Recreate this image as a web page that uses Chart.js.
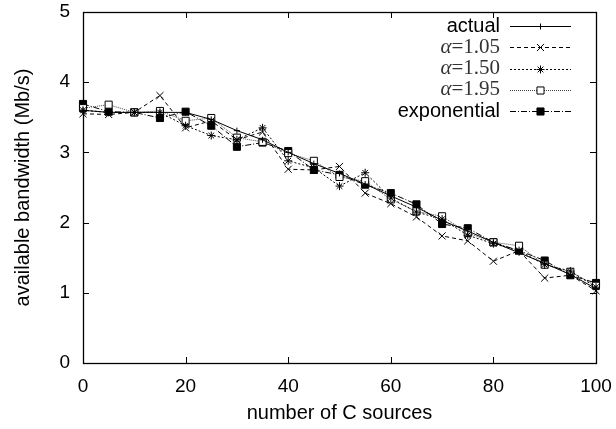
<!DOCTYPE html>
<html>
<head>
<meta charset="utf-8">
<script src="https://cdn.jsdelivr.net/npm/chart.js@4/dist/chart.umd.min.js"></script>
<style>
  html, body { margin: 0; padding: 0; background: #fff; }
  #wrap { width: 616px; height: 429px; }
</style>
</head>
<body>
<div id="wrap"><canvas id="chartContainer" width="616" height="429"></canvas></div>
<script>
// number of C sources
var sources = [0, 5, 10, 15, 20, 25, 30, 35, 40, 45, 50, 55, 60, 65, 70, 75, 80, 85, 90, 95, 100];

// available bandwidth (Mb/s)
var actual      = [3.60, 3.57, 3.57, 3.57, 3.57, 3.47, 3.31, 3.18, 3.00, 2.84, 2.70, 2.55, 2.38, 2.22, 2.03, 1.88, 1.72, 1.57, 1.42, 1.26, 1.06];
var alpha105    = [3.55, 3.54, 3.57, 3.81, 3.35, 3.45, 3.18, 3.29, 2.76, 2.75, 2.80, 2.42, 2.27, 2.08, 1.81, 1.74, 1.45, 1.60, 1.21, 1.25, 1.03];
var alpha150    = [3.60, 3.57, 3.57, 3.57, 3.38, 3.24, 3.18, 3.35, 2.88, 2.78, 2.52, 2.71, 2.35, 2.15, 2.05, 1.82, 1.70, 1.60, 1.40, 1.31, 1.08];
var alpha195    = [3.63, 3.68, 3.57, 3.59, 3.45, 3.49, 3.21, 3.15, 2.99, 2.88, 2.65, 2.59, 2.33, 2.16, 2.09, 1.85, 1.72, 1.67, 1.40, 1.30, 1.10];
var exponential = [3.69, 3.58, 3.57, 3.49, 3.58, 3.38, 3.08, 3.14, 3.02, 2.75, 2.68, 2.54, 2.42, 2.26, 1.98, 1.92, 1.72, 1.60, 1.46, 1.25, 1.14];

var legendLabels = ['actual', 'α=1.05', 'α=1.50', 'α=1.95', 'exponential'];

function toPoints(values) {
    return values.map(function(v, i) { return { x: sources[i], y: v }; });
}

var sansFont = "'Liberation Sans', Arial, sans-serif";
var serifFont = "'Liberation Serif', 'Times New Roman', serif";

// frame + inward ticks on all four sides, gnuplot style
var framePlugin = {
    id: 'frame',
    beforeDatasetsDraw: function(chart) {
        var ctx = chart.ctx, a = chart.chartArea;
        var xs = chart.scales.x, ys = chart.scales.y;
        ctx.save();
        ctx.strokeStyle = '#000';
        ctx.lineWidth = 1;
        ctx.beginPath();
        xs.ticks.forEach(function(t) {
            var px = Math.round(xs.getPixelForValue(t.value)) + 0.5;
            ctx.moveTo(px, a.bottom); ctx.lineTo(px, a.bottom - 6);
            ctx.moveTo(px, a.top); ctx.lineTo(px, a.top + 6);
        });
        ys.ticks.forEach(function(t) {
            var py = Math.round(ys.getPixelForValue(t.value)) + 0.5;
            ctx.moveTo(a.left, py); ctx.lineTo(a.left + 6, py);
            ctx.moveTo(a.right, py); ctx.lineTo(a.right - 6, py);
        });
        ctx.stroke();
        ctx.lineWidth = 1.3;
        ctx.strokeRect(Math.round(a.left) + 0.5, Math.round(a.top) + 0.5,
                       Math.round(a.right - a.left), Math.round(a.bottom - a.top));
        ctx.restore();
    }
};

// key in the top right corner: label, then line sample with marker
var keyPlugin = {
    id: 'key',
    afterDraw: function(chart) {
        var ctx = chart.ctx, a = chart.chartArea;
        var textRight = a.right - 96;
        var lineStart = a.right - 86, lineEnd = a.right - 25;
        ctx.save();
        chart.data.datasets.forEach(function(ds, i) {
            var y = a.top + 14 + i * 21.3;
            ctx.textBaseline = 'middle';
            ctx.textAlign = 'right';
            var label = legendLabels[i];
            if (label.charAt(0) === 'α') {
                var rest = label.slice(1);
                ctx.fillStyle = '#333';
                ctx.font = '21px ' + serifFont;
                ctx.fillText(rest, textRight, y);
                var w = ctx.measureText(rest).width;
                ctx.font = 'italic 21px ' + serifFont;
                ctx.fillText('α', textRight - w, y);
            } else {
                ctx.fillStyle = '#000';
                ctx.font = '20px ' + sansFont;
                ctx.fillText(label, textRight, y);
            }
            var ly = Math.round(y) + 0.5;
            ctx.strokeStyle = ds.borderColor;
            ctx.lineWidth = ds.borderWidth;
            ctx.setLineDash(ds.borderDash || []);
            ctx.beginPath();
            ctx.moveTo(lineStart, ly);
            ctx.lineTo(lineEnd, ly);
            ctx.stroke();
            ctx.setLineDash([]);
            ctx.fillStyle = ds.pointBackgroundColor;
            ctx.strokeStyle = ds.pointBorderColor;
            ctx.lineWidth = 1;
            Chart.helpers.drawPoint(ctx, {
                pointStyle: ds.pointStyle,
                radius: ds.pointRadius,
                rotation: 0,
                borderWidth: 1
            }, (lineStart + lineEnd) / 2, ly);
        });
        ctx.restore();
    }
};

function series(data, dash, style, radius, fill, color) {
    return {
        data: toPoints(data),
        borderColor: color || '#000',
        borderWidth: 1,
        borderDash: dash,
        pointStyle: style,
        pointRadius: radius,
        pointBorderWidth: 1,
        pointBorderColor: '#000',
        pointBackgroundColor: fill,
        tension: 0,
        clip: false
    };
}

var ctx = document.getElementById('chartContainer').getContext('2d');
var myChart = new Chart(ctx, {
    type: 'line',
    data: {
        datasets: [
            series(actual, [], 'cross', 3, '#000'),
            series(alpha105, [4, 3], 'crossRot', 5, '#000'),
            series(alpha150, [2, 2], 'star', 4, '#000'),
            series(alpha195, [1, 1], 'rect', 5, '#fff', '#444'),
            series(exponential, [6, 2, 1, 2], 'rect', 5, '#000')
        ]
    },
    plugins: [framePlugin, keyPlugin],
    options: {
        responsive: false,
        animation: false,
        events: [],
        layout: { padding: { top: 12, right: 20, left: 0, bottom: 0 } },
        plugins: {
            legend: { display: false },
            tooltip: { enabled: false }
        },
        scales: {
            x: {
                type: 'linear',
                min: 0,
                max: 100,
                afterFit: function(s) { s.height = 66; s.paddingLeft = 0; s.paddingRight = 0; },
                grid: { display: false, drawTicks: false },
                border: { display: false },
                ticks: {
                    stepSize: 20,
                    padding: 12,
                    color: '#000',
                    maxRotation: 0,
                    font: { family: sansFont, size: 19 }
                },
                title: {
                    display: true,
                    text: 'number of C sources',
                    color: '#000',
                    padding: { top: 0, bottom: 4 },
                    font: { family: sansFont, size: 20 }
                }
            },
            y: {
                type: 'linear',
                min: 0,
                max: 5,
                afterFit: function(s) { s.width = 83; s.paddingTop = 0; s.paddingBottom = 0; },
                grid: { display: false, drawTicks: false },
                border: { display: false },
                ticks: {
                    stepSize: 1,
                    padding: 13,
                    color: '#000',
                    font: { family: sansFont, size: 19 }
                },
                title: {
                    display: true,
                    text: 'available bandwidth (Mb/s)',
                    color: '#000',
                    padding: { top: 11, bottom: 0 },
                    font: { family: sansFont, size: 20 }
                }
            }
        }
    }
});
</script>
</body>
</html>
